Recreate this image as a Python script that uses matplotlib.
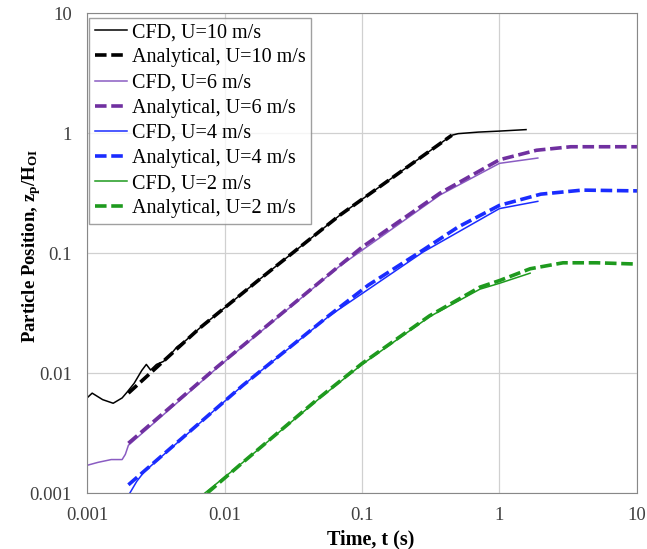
import matplotlib.pyplot as plt
from matplotlib.ticker import FuncFormatter, LogLocator, NullLocator

plt.rcParams['font.family'] = 'Liberation Serif'
plt.rcParams['mathtext.fontset'] = 'custom'
plt.rcParams['mathtext.rm'] = 'Liberation Serif'
plt.rcParams['mathtext.bf'] = 'Liberation Serif:bold'
plt.rcParams['mathtext.it'] = 'Liberation Serif:italic'

# U = 10 m/s
t_cfd10 = [0.001, 0.00109, 0.0013, 0.00155, 0.0018, 0.00195, 0.0022, 0.0025, 0.0027, 0.0029,
           0.0032, 0.0036, 0.0040, 0.0045, 0.0052, 0.0060, 0.0066, 0.0172, 0.069, 0.45,
           0.5, 0.7, 1.0, 1.56]
z_cfd10 = [0.0062, 0.0068, 0.0060, 0.0056, 0.0062, 0.0069, 0.0082, 0.0105, 0.0118, 0.0106,
           0.0118, 0.0125, 0.0140, 0.0165, 0.0186, 0.0215, 0.0237, 0.058, 0.207, 0.96,
           0.99, 1.02, 1.04, 1.07]
t_an10 = [0.002, 0.0066, 0.0172, 0.069, 0.45]
z_an10 = [0.0068, 0.0237, 0.058, 0.207, 0.96]

# U = 6 m/s
t_cfd6 = [0.001, 0.0012, 0.0015, 0.0018, 0.0019, 0.002, 0.0088, 0.069, 0.369, 1.0, 1.9]
z_cfd6 = [0.0017, 0.0018, 0.0019, 0.0019, 0.0021, 0.0025, 0.0110, 0.078, 0.305, 0.56, 0.62]
t_an6 = [0.002, 0.0088, 0.069, 0.1, 0.369, 1.0, 1.86, 3.3, 10]
z_an6 = [0.0026, 0.0112, 0.079, 0.112, 0.316, 0.6, 0.72, 0.77, 0.77]

# U = 4 m/s
t_cfd4 = [0.00205, 0.0023, 0.0026, 0.0136, 0.058, 0.278, 1.0, 1.9]
z_cfd4 = [0.001, 0.00125, 0.0015, 0.0079, 0.0300, 0.102, 0.235, 0.27]
t_an4 = [0.002, 0.0136, 0.058, 0.111, 0.278, 0.5, 1.0, 2.0, 4.0, 10]
z_an4 = [0.00117, 0.0079, 0.0304, 0.054, 0.106, 0.165, 0.25, 0.31, 0.335, 0.33]

# U = 2 m/s
t_cfd2 = [0.0072, 0.0136, 0.0495, 0.1, 0.31, 0.72, 1.0, 1.67]
z_cfd2 = [0.001, 0.0018, 0.0062, 0.0118, 0.0295, 0.050, 0.056, 0.068]
t_an2 = [0.0075, 0.0136, 0.0495, 0.1, 0.31, 0.72, 1.0, 1.67, 2.9, 5.1, 10]
z_an2 = [0.001, 0.0018, 0.0063, 0.012, 0.030, 0.052, 0.059, 0.074, 0.083, 0.083, 0.081]

fig = plt.figure(figsize=(6.47, 5.49), dpi=100)
ax = fig.add_axes([0.1345, 0.102, 0.85, 0.874])

dash = (3.2, 1.3)
ax.plot(t_cfd10, z_cfd10, color='black', lw=1.1, label='CFD, U=10 m/s')
ax.plot(t_an10, z_an10, color='black', lw=2.6, dashes=dash, label='Analytical, U=10 m/s')
ax.plot(t_cfd6, z_cfd6, color='#8A5CC2', lw=1.1, label='CFD, U=6 m/s')
ax.plot(t_an6, z_an6, color='#7030A0', lw=2.6, dashes=dash, label='Analytical, U=6 m/s')
ax.plot(t_cfd4, z_cfd4, color='#1a2cff', lw=1.1, label='CFD, U=4 m/s')
ax.plot(t_an4, z_an4, color='#1a2cff', lw=2.6, dashes=dash, label='Analytical, U=4 m/s')
ax.plot(t_cfd2, z_cfd2, color='#1e9a1e', lw=1.1, label='CFD, U=2 m/s')
ax.plot(t_an2, z_an2, color='#1e9a1e', lw=2.6, dashes=dash, label='Analytical, U=2 m/s')

ax.set_xscale('log')
ax.set_yscale('log')
ax.set_xlim(0.001, 10)
ax.set_ylim(0.001, 10)
fmt = FuncFormatter(lambda v, p: '%g' % v)
for a in (ax.xaxis, ax.yaxis):
    a.set_major_locator(LogLocator(base=10, numticks=10))
    a.set_minor_locator(NullLocator())
    a.set_major_formatter(fmt)
ax.tick_params(length=0, labelsize=13.5, labelcolor='#404040')
ax.tick_params(axis='x', pad=10)
ax.tick_params(axis='y', pad=11)
ax.grid(True, color='#d0d0d0', lw=0.9)
for s in ax.spines.values():
    s.set_color('#888888')

ax.set_xlabel('Time, t (s)', fontsize=14.5, fontweight='bold', labelpad=2)
ax.xaxis.set_label_coords(0.515, -0.075)
ax.set_ylabel(r'Particle Position, $\mathbf{z_p}$/H$_\mathbf{OI}$', fontsize=13.5,
              fontweight='bold')
ax.yaxis.set_label_coords(-0.08, 0.515)

leg = ax.legend(loc='upper left', fontsize=14.5, handlelength=1.6, handletextpad=0.25,
                labelspacing=0.3, borderpad=0.28, borderaxespad=0.1, fancybox=False,
                bbox_to_anchor=(0.0, 0.995))
leg.get_frame().set_edgecolor('#888888')
leg.get_frame().set_linewidth(1.0)

plt.savefig('out.png', dpi=100)
plt.close()
